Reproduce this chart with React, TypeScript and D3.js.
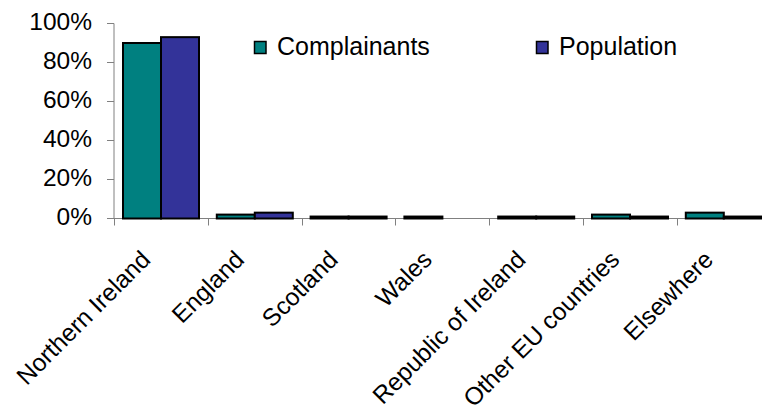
import React from "react";
import * as d3 from "d3";

const categories = [
  "Northern Ireland",
  "England",
  "Scotland",
  "Wales",
  "Republic of Ireland",
  "Other EU countries",
  "Elsewhere",
];
const complainants = [90, 2, 1, 1, 1, 2, 3];
const population = [93, 3, 1, 0, 1, 1, 1];
const yTicks = [0, 20, 40, 60, 80, 100];
const seriesNames = ["Complainants", "Population"];
const seriesColors = ["#008080", "#333399"];

const W = 762;
const H = 414;
const FONT = "'Liberation Sans', Arial, Helvetica, sans-serif";
const FS = 24.5;

export default function App() {
  const x = d3
    .scaleBand<string>()
    .domain(categories)
    .range([114, 114 + 7 * 93.8])
    .paddingInner(0)
    .paddingOuter(0);
  const xs = d3.scaleBand<string>().domain(seriesNames).range([9, 85]);
  const y = d3.scaleLinear().domain([0, 100]).range([218.5, 23.5]);
  const series = [complainants, population];

  return (
    <svg
      width={W}
      height={H}
      style={{ position: "absolute", left: 0, top: 0, background: "#fff" }}
      fontFamily={FONT}
    >
      <rect x={0} y={0} width={W} height={H} fill="#fff" />
      {/* axes */}
      <line x1={114} x2={114} y1={y(100)} y2={y(0)} stroke="#808080" />
      {yTicks.map((t) => (
        <g key={t}>
          <line x1={107} x2={114} y1={y(t)} y2={y(t)} stroke="#808080" />
          <text x={92} y={y(t) + 6.8} textAnchor="end" fontSize={FS} fill="#000">
            {t}%
          </text>
        </g>
      ))}
      <line x1={114} x2={W} y1={y(0)} y2={y(0)} stroke="#808080" />
      {categories.map((c) => (
        <line
          key={c}
          x1={Math.round(x(c) as number) + 0.5}
          x2={Math.round(x(c) as number) + 0.5}
          y1={y(0)}
          y2={y(0) + 7}
          stroke="#808080"
        />
      ))}
      {/* bars */}
      {series.map((vals, si) =>
        vals.map((v, i) =>
          v > 0 ? (
            <rect
              key={`${si}-${i}`}
              x={(x(categories[i]) as number) + (xs(seriesNames[si]) as number)}
              y={y(v)}
              width={xs.bandwidth()}
              height={y(0) - y(v)}
              fill={seriesColors[si]}
              stroke="#000"
              strokeWidth={2}
            />
          ) : null
        )
      )}
      {categories.map((c) => {
        const cx = (x(c) as number) + x.bandwidth() / 2 - 9;
        const cy = 261;
        return (
          <text
            key={c}
            transform={`translate(${cx},${cy}) rotate(-45)`}
            textAnchor="end"
            fontSize={FS}
            fill="#000"
          >
            {c}
          </text>
        );
      })}
      {/* legend */}
      {seriesNames.map((s, i) => {
        const lx = [254.5, 536.5][i];
        return (
          <g key={s}>
            <rect
              x={lx}
              y={41.5}
              width={11.5}
              height={12}
              fill={seriesColors[i]}
              stroke="#000"
              strokeWidth={1.5}
            />
            <text x={lx + 22.5} y={54.5} fontSize={FS + 0.5} fill="#000">
              {s}
            </text>
          </g>
        );
      })}
    </svg>
  );
}
